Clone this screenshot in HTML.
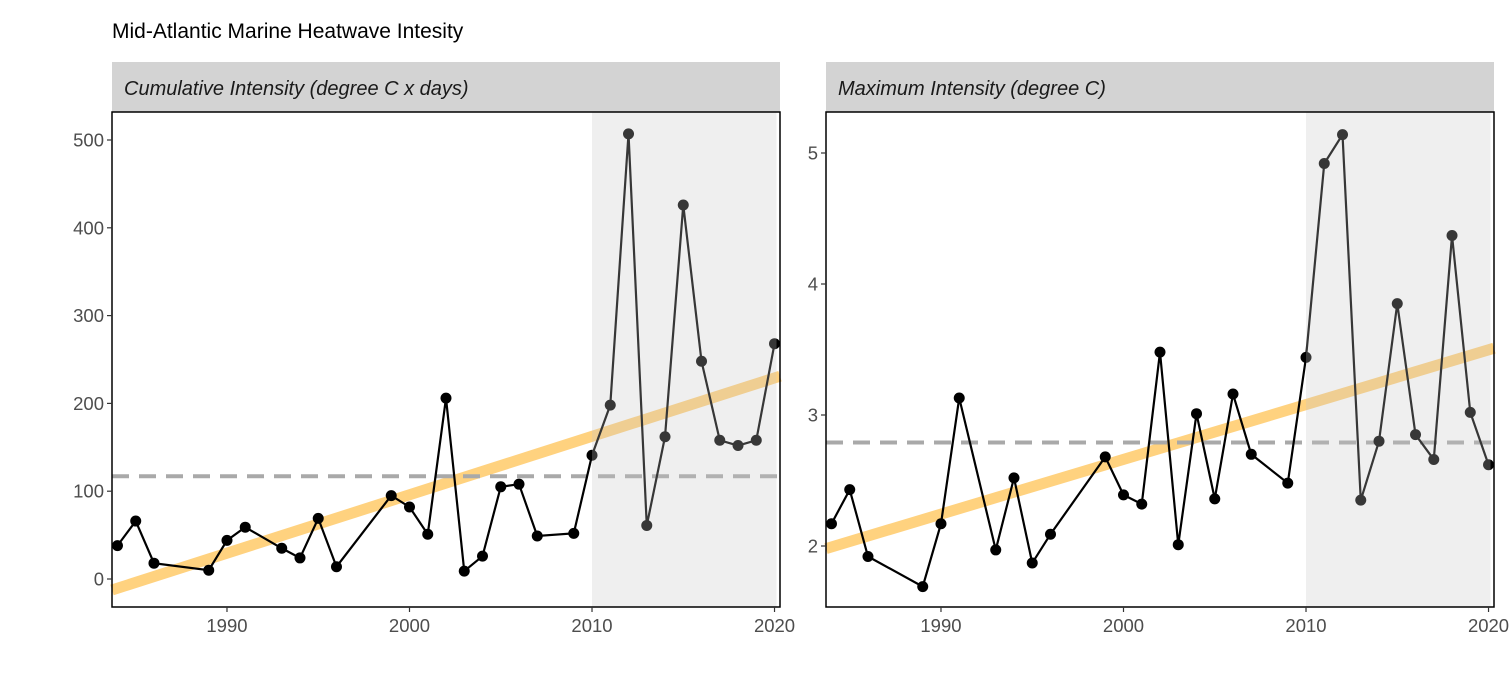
<!DOCTYPE html>
<html><head><meta charset="utf-8"><style>
body{margin:0;background:#fff;}
svg{display:block;font-family:"Liberation Sans",sans-serif;}
</style></head><body>
<svg id="chart" width="1512" height="680" viewBox="0 0 1512 680">
<text x="112" y="38" font-size="21" fill="#000">Mid-Atlantic Marine Heatwave Intesity</text>
</svg>
<script>
const years=[1984,1985,1986,1989,1990,1991,1993,1994,1995,1996,1999,2000,2001,2002,2003,2004,2005,2006,2007,2009,2010,2011,2012,2013,2014,2015,2016,2017,2018,2019,2020];
const cumValues=[38,66,18,10,44,59,35,24,69,14,95,82,51,206,9,26,105,108,49,52,141,198,507,61,162,426,248,158,152,158,268];
const maxValues=[2.17,2.43,1.92,1.69,2.17,3.13,1.97,2.52,1.87,2.09,2.68,2.39,2.32,3.48,2.01,3.01,2.36,3.16,2.70,2.48,3.44,4.92,5.14,2.35,2.80,3.85,2.85,2.66,4.37,3.02,2.62];
const xTicks=[1990,2000,2010,2020];
const cumTicks=[0,100,200,300,400,500];
const maxTicks=[2,3,4,5];
const cumTrend=[-12.5,231];
const maxTrend=[1.98,3.51];
const cumMean=[117];
const maxMean=[2.79];
const stripLabels=["Cumulative Intensity (degree C x days)","Maximum Intensity (degree C)"];

const NS="http://www.w3.org/2000/svg";
const svg=document.getElementById('chart');
function mk(tag,attrs,parent){const e=document.createElementNS(NS,tag);for(const k in attrs)e.setAttribute(k,attrs[k]);(parent||svg).appendChild(e);return e;}

function panel(p){
  const g=mk('g',{});
  
  
  const X0=1983.7,X1=2020.3;
  const sx=v=>p.left+(v-X0)/(X1-X0)*(p.right-p.left);
  const sy=v=>p.y0px+(v-p.y0)*(p.y1px-p.y0px)/(p.y1-p.y0);
  const strip=mk('rect',{x:p.left,y:62,width:p.right-p.left,height:50,fill:'#d3d3d3'},g);
  
  
  const st=mk('text',{x:p.left+12,y:95,'font-size':20,'font-style':'italic',fill:'#1a1a1a'},g);
  st.textContent=p.label;
  
  
  const tr=mk('line',{x1:p.left,y1:sy(p.trend[0]),x2:p.right,y2:sy(p.trend[1]),stroke:'#ffa500','stroke-opacity':0.5,'stroke-width':11},g);
  
  
  const mn=mk('line',{x1:p.left,y1:sy(p.mean[0]),x2:p.right,y2:sy(p.mean[0]),stroke:'#a9a9a9','stroke-width':4,'stroke-dasharray':'17,10'},g);
  
  
  const d=years.map((y,i)=>(i?'L':'M')+sx(y)+','+sy(p.vals[i])).join('');
  const ln=mk('path',{d:d,fill:'none',stroke:'#000','stroke-width':2.2},g);
  
  
  years.forEach((y,i)=>{
    const c=mk('circle',{cx:sx(y),cy:sy(p.vals[i]),r:5.5,fill:'#000'},g);
    
    
  });
  const sh=mk('rect',{x:sx(2010),y:p.top,width:sx(2020)-sx(2010)+2,height:p.bottom-p.top,fill:'rgb(196,196,196)','fill-opacity':0.28},g);
  
  
  const bd=mk('rect',{x:p.left,y:p.top,width:p.right-p.left,height:p.bottom-p.top,fill:'none',stroke:'#000','stroke-width':1.5},g);
  
  
  p.ticks.forEach(t=>{
    const yy=sy(t);
    mk('line',{x1:p.left-5,x2:p.left,y1:yy,y2:yy,stroke:'#333','stroke-width':1.2},g);
    const tx=mk('text',{x:p.left-8,y:yy+6.5,'font-size':18.5,fill:'#4d4d4d','text-anchor':'end'},g);
    tx.textContent=t;
    
    
  });
  xTicks.forEach(t=>{
    const xx=sx(t);
    mk('line',{x1:xx,x2:xx,y1:p.bottom,y2:p.bottom+5,stroke:'#333','stroke-width':1.2},g);
    const tx=mk('text',{x:xx,y:p.bottom+25,'font-size':18.5,fill:'#4d4d4d','text-anchor':'middle'},g);
    tx.textContent=t;
    
    
  });
}
panel({name:'cumulative-panel',left:112,right:780,top:112,bottom:607,y0:0,y1:500,y0px:579,y1px:140,vals:cumValues,ticks:cumTicks,trend:cumTrend,mean:cumMean,label:stripLabels[0]});
panel({name:'maximum-panel',left:826,right:1494,top:112,bottom:607,y0:2,y1:5,y0px:546,y1px:153,vals:maxValues,ticks:maxTicks,trend:maxTrend,mean:maxMean,label:stripLabels[1]});
</script>
</body></html>
